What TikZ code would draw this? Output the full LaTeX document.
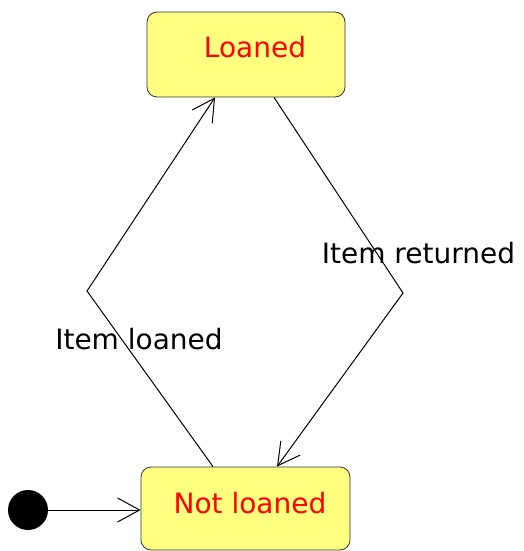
\documentclass[tikz,border=0pt]{standalone}
\usepackage{fontspec}
\setmainfont{DejaVu Sans}
\usetikzlibrary{arrows.meta,positioning}
\definecolor{stateyellow}{RGB}{255,255,128}
\definecolor{stateedge}{RGB}{50,50,50}

\begin{document}
\begin{tikzpicture}[x=1pt, y=-1pt,
    state/.style={draw=stateedge, fill=stateyellow, rounded corners=10pt,
      line width=0.8pt, inner sep=0pt},
    statename/.style={anchor=base, text=red, font=\fontsize{28pt}{34pt}\selectfont},
    translabel/.style={anchor=base, font=\fontsize{28pt}{34pt}\selectfont},
    trans/.style={line width=1pt, -{Straight Barb[length=22pt,width=24pt,line width=1pt]}}]
  \useasboundingbox (0,0) rectangle (523,551);

  \node[state, minimum width=198pt, minimum height=85pt] (loaned) at (246,54.5) {};
  \node[statename] (loanedtxt) at (255,58) {Loaned};

  \node[state, minimum width=209pt, minimum height=83pt] (notloaned) at (245.5,508.5) {};
  \node[statename] (notloanedtxt) at (250,513) {Not loaned};

  \node[circle, fill=black, minimum size=40pt, inner sep=0pt] (init) at (28,510) {};
  \draw[trans] (init) -- (init -| notloaned.west);

  % loan and return
  \coordinate (bendl) at (87,291);
  \coordinate (bendr) at (403,293);
  \draw[trans] (notloaned.north -| 213,0) -- (bendl) -- (loaned.south -| 215,0);
  \draw[trans] (loaned.south -| 274,0) -- (bendr) -- (notloaned.north -| 277,0);

  \node[translabel] (loanlbl) at (139,349) {Item loaned};
  \node[translabel] (returnlbl) at (418.5,263) {Item returned};
\end{tikzpicture}
\end{document}
